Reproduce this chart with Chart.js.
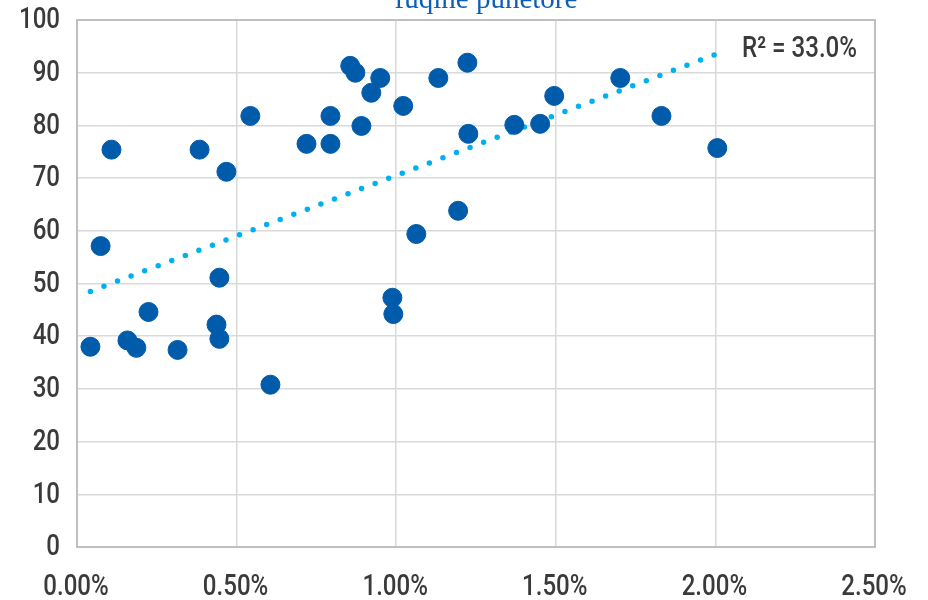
<!DOCTYPE html>
<html>
<head>
<meta charset="utf-8">
<script src="https://cdn.jsdelivr.net/npm/chart.js@4.4.1/dist/chart.umd.min.js"></script>
<style>
  body { margin: 0; background: #fff; }
  #wrap { width: 928px; height: 600px; }
</style>
</head>
<body>
<div id="wrap"><canvas id="myChart" width="928" height="600"></canvas></div>
<script>
// vlerat e pikave (x ne %, y)
var xValues = [0.042, 0.074, 0.108, 0.158, 0.186, 0.224, 0.315, 0.384, 0.437, 0.446, 0.446, 0.468,
  0.543, 0.606, 0.719, 0.794, 0.794, 0.856, 0.872, 0.891, 0.922, 0.950, 0.988, 0.991, 1.022,
  1.063, 1.132, 1.194, 1.223, 1.226, 1.370, 1.451, 1.495, 1.702, 1.831, 2.006];
var yValues = [38.0, 57.1, 75.4, 39.2, 37.8, 44.6, 37.4, 75.4, 42.2, 51.1, 39.5, 71.2,
  81.8, 30.8, 76.5, 81.8, 76.5, 91.3, 90.0, 79.9, 86.2, 89.0, 47.3, 44.2, 83.7,
  59.4, 89.0, 63.8, 91.9, 78.4, 80.1, 80.3, 85.6, 89.0, 81.8, 75.7];
// vija e trendit
var trendX = [0.042, 2.006];
var trendY = [48.5, 93.6];
var titleText = "fuqine punetore";
var r2Text = "R\u00B2 = 33.0%";

var points = xValues.map(function (x, i) { return { x: x, y: yValues[i] }; });
var trend = trendX.map(function (x, i) { return { x: x, y: trendY[i] }; });

var narrow = 0.83; // shkronja te ngushta si ne Excel

function xLabel(v) { return v.toFixed(2) + '%'; }

// shkruan tekst te ngushtuar
function narrowText(c, txt, x, y, align) {
  c.save();
  c.translate(x, y);
  c.scale(narrow, 1);
  c.textAlign = align;
  c.fillText(txt, 0, 0);
  c.restore();
}

// etiketat e boshteve, teksti lart, R2 dhe korniza
var extras = {
  id: 'extras',
  afterDraw: function (chart) {
    var c = chart.ctx, a = chart.chartArea;
    var sx = chart.scales.x, sy = chart.scales.y;
    c.save();
    c.strokeStyle = '#bfbfbf';
    c.lineWidth = 2;
    c.strokeRect(a.left, a.top, a.right - a.left, a.bottom - a.top);

    c.fillStyle = '#3a3a3a';
    c.font = "500 29px Roboto, sans-serif";
    c.textBaseline = 'middle';
    sy.ticks.forEach(function (t) {
      narrowText(c, String(t.value), a.left - 17, sy.getPixelForValue(t.value) + 1, 'right');
    });
    sx.ticks.forEach(function (t) {
      narrowText(c, xLabel(t.value), sx.getPixelForValue(t.value) - 1, a.bottom + 41, 'center');
    });

    c.font = "500 29px Roboto, sans-serif";
    narrowText(c, r2Text, a.right - 18, sy.getPixelForValue(94.3), 'right');

    c.fillStyle = '#0b5fb8';
    c.font = "29px 'Liberation Serif', serif";
    c.textAlign = 'center';
    c.textBaseline = 'alphabetic';
    c.fillText(titleText, 486, 8);
    c.restore();
  }
};

new Chart("myChart", {
  type: "scatter",
  data: {
    datasets: [
      {
        data: points,
        backgroundColor: '#005baa',
        borderColor: '#005baa',
        pointRadius: 9.5,
        pointHoverRadius: 9.5,
        order: 1
      },
      {
        type: 'line',
        data: trend,
        borderColor: '#00b0f0',
        borderWidth: 5.5,
        borderDash: [0, 14.5],
        borderCapStyle: 'round',
        pointRadius: 0,
        fill: false,
        order: 2
      }
    ]
  },
  options: {
    responsive: false,
    animation: false,
    layout: { padding: { top: 20, right: 53, left: 0, bottom: 0 } },
    plugins: {
      legend: { display: false },
      tooltip: { enabled: false }
    },
    scales: {
      x: {
        type: 'linear',
        min: 0,
        max: 2.5,
        afterFit: function (s) { s.height = 53; },
        ticks: { stepSize: 0.5, display: false },
        grid: { color: '#d9d9d9', lineWidth: 1.5, drawTicks: false },
        border: { display: false }
      },
      y: {
        min: 0,
        max: 100,
        afterFit: function (s) { s.width = 77; },
        ticks: { stepSize: 10, display: false },
        grid: { color: '#d9d9d9', lineWidth: 1.5, drawTicks: false },
        border: { display: false }
      }
    }
  },
  plugins: [extras]
});
</script>
</body>
</html>
